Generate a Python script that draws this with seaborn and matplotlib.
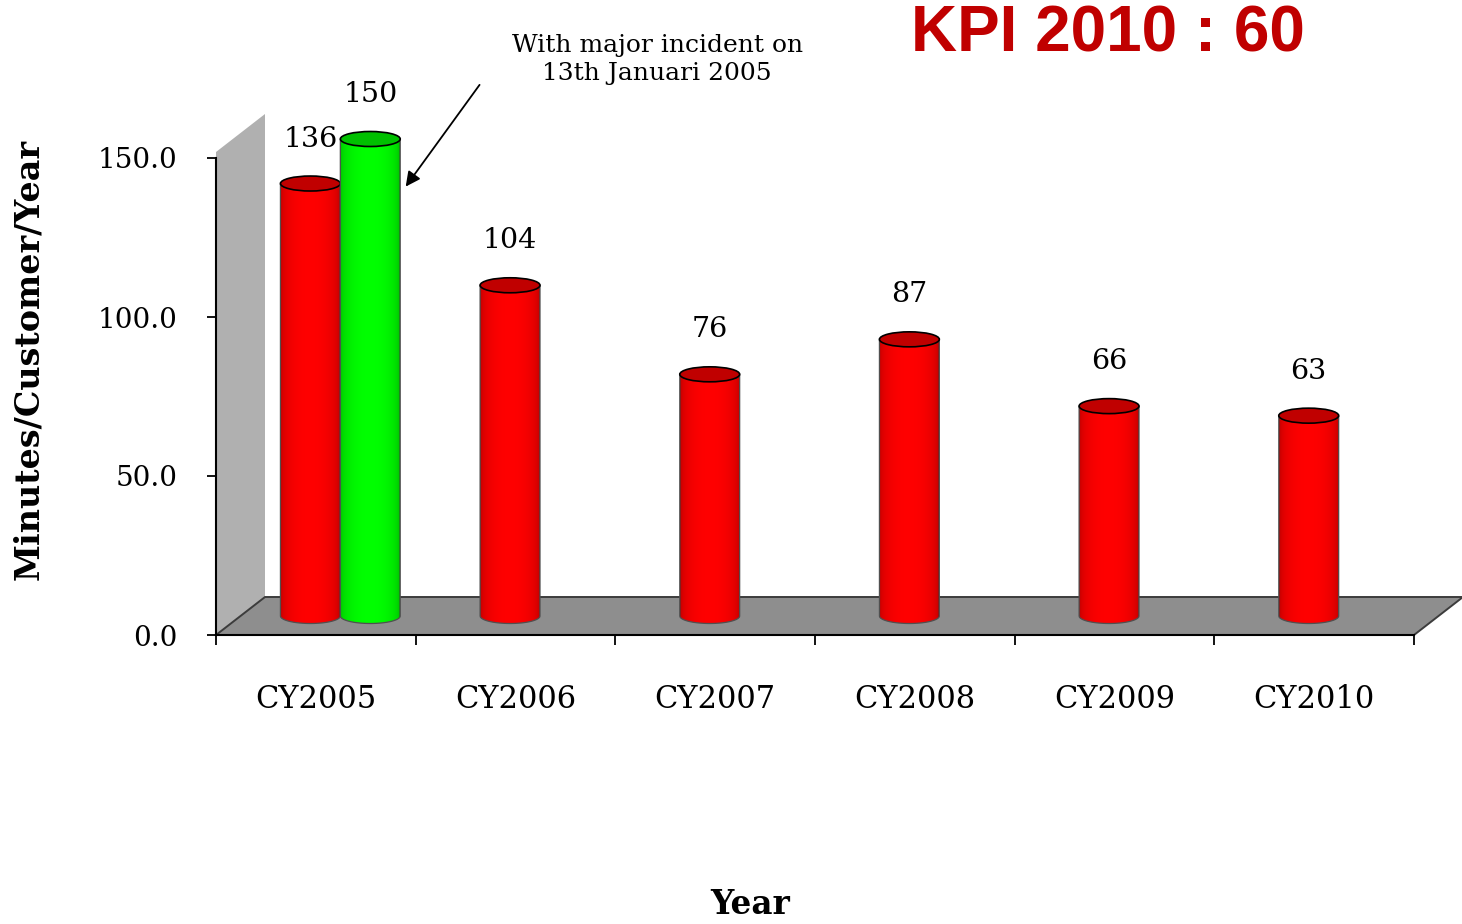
import numpy as np
import pandas as pd
import matplotlib
matplotlib.use("Agg")
import matplotlib.pyplot as plt
import matplotlib.transforms as mtransforms
from matplotlib.patches import PathPatch, Ellipse, Polygon, Rectangle
from matplotlib.path import Path
import seaborn as sns

# ---------------- data ----------------
categories = ["CY2005", "CY2006", "CY2007", "CY2008", "CY2009", "CY2010"]
saidi_values = [136, 104, 76, 87, 66, 63]
incident_categories = ["CY2005"]
incident_values = [150]
series_names = ["SAIDI", "With major incident"]
y_ticks = [0, 50, 100, 150]
y_tick_labels = ["0.0", "50.0", "100.0", "150.0"]

df = pd.concat([
    pd.DataFrame({"year": categories, "value": saidi_values, "series": series_names[0]}),
    pd.DataFrame({"year": incident_categories, "value": incident_values, "series": series_names[1]}),
], ignore_index=True)

# ---------------- style ----------------
sns.set_theme(style="ticks")
plt.rcParams["font.family"] = ["DejaVu Serif"]

W, H = 1462, 924
fig = plt.figure(figsize=(W / 100, H / 100), dpi=100)
ax_l, ax_r, ax_b, ax_t = 216, 1414, 635, 158
ax = fig.add_axes([ax_l / W, (H - ax_b) / H, (ax_r - ax_l) / W, (ax_b - ax_t) / H])

palette = {series_names[0]: "#FF0000", series_names[1]: "#00FF00"}
sns.barplot(data=df, x="year", y="value", hue="series", order=categories,
            hue_order=series_names, palette=palette, width=0.6, dodge=True,
            saturation=1, errorbar=None, legend=False, ax=ax)
bars = [p for p in ax.patches if isinstance(p, Rectangle) and p.get_height() > 0]

ax.set_xlim(-0.5, len(categories) - 0.5)
ax.set_ylim(0, 150)

# depth geometry (pixels)
depth_dx, depth_dy = 49, 38
ax_w_px, ax_h_px = ax_r - ax_l, ax_b - ax_t
px_per_unit = ax_h_px / 150.0
ell_h = 15 / px_per_unit  # ellipse height in data units

# back wall & floor
wall = Polygon([(0, 0), (depth_dx / ax_w_px, depth_dy / ax_h_px),
                (depth_dx / ax_w_px, 1 + 6 / ax_h_px + depth_dy / ax_h_px), (0, 1 + 6 / ax_h_px)],
               closed=True, transform=ax.transAxes, clip_on=False,
               facecolor="#B0B0B0", edgecolor="none", zorder=0.5)
ax.add_patch(wall)
floor = Polygon([(0, 0), (1, 0), (1 + depth_dx / ax_w_px, depth_dy / ax_h_px),
                 (depth_dx / ax_w_px, depth_dy / ax_h_px)],
                closed=True, transform=ax.transAxes, clip_on=False,
                facecolor="#8E8E8E", edgecolor="#3C3C3C", lw=1.4, zorder=0.6)
ax.add_patch(floor)

shift = ax.transData + mtransforms.ScaledTranslation(depth_dx / 2 / 100, depth_dy / 2 / 100,
                                                     fig.dpi_scale_trans)

top_colors = {"#ff0000": "#C00000", "#00ff00": "#00C000"}
N = 64
u = np.linspace(0, 1, N)
shade = 0.62 + 0.38 * np.clip(np.sin(np.pi * u), 0, 1) ** 0.25

for i, p in enumerate(bars):
    x0, w, h = p.get_x(), p.get_width(), p.get_height()
    x1, cx = x0 + w, x0 + w / 2
    fc = matplotlib.colors.to_hex(p.get_facecolor()).lower()
    p.set_transform(shift)
    p.set_clip_on(False)
    p.set_edgecolor("none")
    z = 3 + i * 0.1
    p.set_zorder(z)

    t = np.linspace(0, np.pi, 40)
    arc = np.column_stack([cx + (w / 2) * np.cos(t), -(ell_h / 2) * np.sin(t)])
    verts = np.vstack([[x0, 0], [x0, h], [x1, h], [x1, 0], arc, [x0, 0]])
    sil = PathPatch(Path(verts), transform=shift, facecolor="none",
                    edgecolor="#505050", lw=0.9, zorder=z + 0.03, clip_on=False)
    ax.add_patch(sil)

    base = np.array(matplotlib.colors.to_rgb(fc))
    grad = np.clip(shade[None, :, None] * base[None, None, :], 0, 1)
    grad = np.repeat(grad, 2, axis=0)
    im = ax.imshow(grad, extent=[x0, x1, -ell_h / 2, h], aspect="auto",
                   transform=shift, interpolation="bilinear", zorder=z + 0.01)
    im.set_clip_path(sil)
    im.set_clip_box(fig.bbox)

    top = Ellipse((cx, h), w, ell_h, transform=shift, facecolor=top_colors.get(fc, fc),
                  edgecolor="black", lw=1.2, zorder=z + 0.06, clip_on=False)
    ax.add_patch(top)

    ax.annotate(f"{int(round(h))}", xy=(cx, h), xycoords=shift, xytext=(0, 32),
                textcoords="offset points", ha="center", va="center",
                fontsize=20.5, color="black", zorder=10, annotation_clip=False)

ax.set_xlim(-0.5, len(categories) - 0.5)
ax.set_ylim(0, 150)

# axes and ticks
ax.set_yticks(y_ticks)
ax.set_yticklabels(y_tick_labels)
ax.set_xticks(range(len(categories)))
ax.set_xticklabels(categories)
ax.set_xticks(np.arange(-0.5, len(categories), 1), minor=True)
ax.tick_params(axis="x", which="major", length=0, pad=35, labelsize=22, colors="black")
ax.tick_params(axis="x", which="minor", length=7, width=1.3, direction="out", color="black")
ax.tick_params(axis="y", which="major", length=6.5, width=1.3, direction="out",
               pad=21, labelsize=20, colors="black")
for s in ["top", "right"]:
    ax.spines[s].set_visible(False)
for s in ["left", "bottom"]:
    ax.spines[s].set_color("black")
    ax.spines[s].set_linewidth(1.5)
    ax.spines[s].set_zorder(2)

ax.set_ylabel("Minutes/Customer/Year", fontsize=24, fontweight="bold", color="black")
ax.yaxis.set_label_coords((45 - ax_l) / ax_w_px, (ax_b - 359) / ax_h_px)
ax.set_xlabel("Year", fontsize=23.5, fontweight="bold", color="black")
ax.xaxis.set_label_coords((750 - ax_l) / ax_w_px, (ax_b - 888) / ax_h_px)

# annotation
ax.text(1.71, 181, "With major incident on\n13th Januari 2005", ha="center", va="center",
        fontsize=18, linespacing=1.3, color="black", clip_on=False)
ax.annotate("", xy=(0.45, 141), xytext=(0.82, 173),
            arrowprops=dict(arrowstyle="-|>", color="black", lw=1.3, mutation_scale=22,
                            shrinkA=0, shrinkB=0), annotation_clip=False)

fig.text(1108 / W, 1 - 35 / H, "KPI 2010 : 60", color="#C00000", fontsize=46,
         fontweight="bold", family=["Liberation Sans", "DejaVu Sans"], ha="center", va="center")

fig.savefig("out.png", dpi=100, facecolor="white")
